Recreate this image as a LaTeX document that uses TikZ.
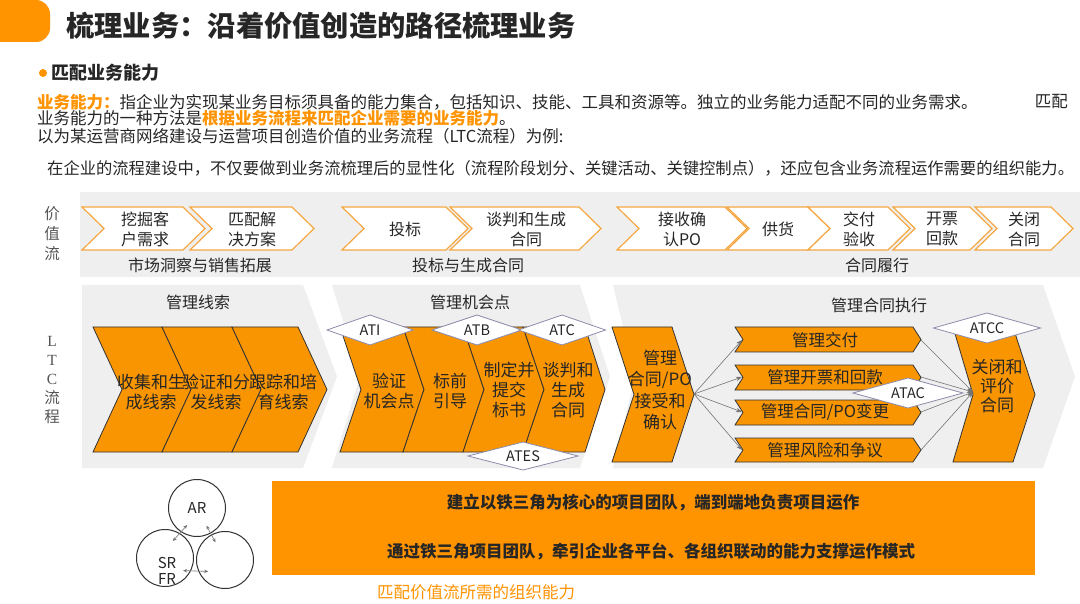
\documentclass[tikz,border=0pt]{standalone}
\usepackage{fontspec}
\setmainfont{Noto Sans CJK SC}
\newfontfamily\serifL{Liberation Serif}
\usetikzlibrary{arrows.meta,calc}
\definecolor{org}{HTML}{FF9300}
\definecolor{chevorg}{HTML}{F99500}
\definecolor{lineorg}{HTML}{F5A742}
\definecolor{bggray}{HTML}{EFEFEF}
\definecolor{txt}{HTML}{262626}
\definecolor{lbl}{HTML}{555555}
\definecolor{diaedge}{HTML}{8C8CAA}
\newcommand{\myfs}[2]{\fontsize{#1}{#2}\selectfont}
% style, left, right, top, bottom, notch depth, tip depth
\newcommand{\mychev}[7]{\path[#1] (#2,#4) -- (#3,#4) -- ({#3+#7},{(#4+#5)/2}) -- (#3,#5) -- (#2,#5) -- ({#2+#6},{(#4+#5)/2}) -- cycle;}
% name, x, y, w, h, text
\newcommand{\mydia}[6]{\path[dia] ({#2-#4/2},#3) -- (#2,{#3-#5/2}) -- ({#2+#4/2},#3) -- (#2,{#3+#5/2}) -- cycle;
  \node[diatxt] (#1) at (#2,#3) {#6};}
\begin{document}
\begin{tikzpicture}[x=1pt,y=-1pt,
  body/.style={font=\myfs{16.5}{20}, text=txt, inner sep=0},
  vtxt/.style={font=\myfs{16}{20}, text=txt, align=center, inner sep=0},
  otxt/.style={font=\myfs{17}{20}, text=txt, align=center, inner sep=0},
  vch/.style={fill=white, draw=lineorg, line width=1.2},
  gch/.style={fill=bggray},
  och/.style={fill=chevorg, draw=black!80, line width=0.8},
  dia/.style={fill=white, draw=diaedge, line width=0.8},
  diatxt/.style={font=\myfs{14.5}{16}, text=txt, inner sep=0},
  arr/.style={-{Stealth[length=6pt,width=4.5pt]}, draw=black!55, line width=0.6},
  darr/.style={{Stealth[length=4pt,width=3.5pt]}-{Stealth[length=4pt,width=3.5pt]}, draw=black!55, line width=0.6},
  ring/.style={circle, draw=black!80, line width=1, inner sep=0, minimum size=57}
]
\useasboundingbox (0,0) rectangle (1080,604);
\fill[white] (0,0) rectangle (1080,604);

% header
\fill[org, rounded corners=14] (-30,0) rectangle (50,42);
\node[anchor=west, font=\myfs{28.3}{32}\bfseries, text=txt, inner sep=0] (title) at (66,26) {梳理业务：沿着价值创造的路径梳理业务};
\fill[org] (43,73) circle (4);
\node[anchor=west, font=\myfs{18}{20}\bfseries, text=txt, inner sep=0] (head) at (51,73) {匹配业务能力};

\node[body, anchor=west] (l1) at (37,102) {\textcolor{org}{\bfseries 业务能力：}指企业为实现某业务目标须具备的能力集合，包括知识、技能、工具和资源等。独立的业务能力适配不同的业务需求。};
\node[body, anchor=east] (l1b) at (1068,102) {匹配};
\node[body, anchor=west] (l2) at (37,118) {业务能力的一种方法是\textcolor{org}{\bfseries 根据业务流程来匹配企业需要的业务能力}。};
\node[body, anchor=west] (l3) at (37,136) {以为某运营商网络建设与运营项目创造价值的业务流程（LTC流程）为例:};
\node[body, anchor=west, font=\myfs{16.3}{20}] (l4) at (47,168) {在企业的流程建设中，不仅要做到业务流梳理后的显性化（流程阶段划分、关键活动、关键控制点），还应包含业务流程运作需要的组织能力。};

% value stream
\fill[bggray] (80,192) rectangle (1080,277);
\node[font=\myfs{15.5}{20}, text=lbl, align=center, inner sep=0] (vl) at (52,234) {价\\值\\流};
\mychev{vch}{82}{183}{207}{250}{22}{22}
\mychev{vch}{190}{292}{207}{250}{22}{22}
\mychev{vch}{342}{446}{207}{250}{22}{22}
\mychev{vch}{450}{579}{207}{250}{22}{22}
\mychev{vch}{617}{725}{207}{250}{22}{22}
\mychev{vch}{727}{808}{207}{250}{22}{22}
\mychev{vch}{808}{888}{207}{250}{22}{22}
\mychev{vch}{893}{970}{207}{250}{22}{22}
\mychev{vch}{975}{1051}{207}{250}{22}{22}
\node[vtxt] (v1) at (145,229) {挖掘客\\户需求};
\node[vtxt] (v2) at (252,229) {匹配解\\决方案};
\node[vtxt] (v3) at (405,229) {投标};
\node[vtxt] (v4) at (526,229) {谈判和生成\\合同};
\node[vtxt] (v5) at (682,229) {接收确\\认PO};
\node[vtxt] (v6) at (778,229) {供货};
\node[vtxt] (v7) at (859,229) {交付\\验收};
\node[vtxt] (v8) at (942,229) {开票\\回款};
\node[vtxt] (v9) at (1024,229) {关闭\\合同};
\node[vtxt] (p1) at (200,265) {市场洞察与销售拓展};
\node[vtxt] (p2) at (468,265) {投标与生成合同};
\node[vtxt] (p3) at (877,265) {合同履行};

% LTC
\node[font=\myfs{15.5}{19}, text=lbl, align=center, inner sep=0] (ltc) at (52,380) {{\serifL L}\\{\serifL T}\\{\serifL C}\\流\\程};
\mychev{gch}{82}{303}{285}{468}{0}{34}
\mychev{gch}{332}{580}{285}{468}{28}{30}
\mychev{gch}{613}{1043}{285}{468}{22}{32}
\node[vtxt] (g1) at (198,302) {管理线索};
\node[vtxt] (g2) at (470,302) {管理机会点};
\node[vtxt] (g3) at (879,305) {管理合同执行};

% group 1
\mychev{och}{93}{162}{327}{452}{29}{29}
\mychev{och}{162}{232}{327}{452}{29}{29}
\mychev{och}{232}{298}{327}{452}{29}{29}
\node[otxt] (a1) at (151,392) {收集和生\\成线索};
\node[otxt] (a2) at (216,392) {验证和分\\发线索};
\node[otxt] (a3) at (283,392) {跟踪和培\\育线索};

% group 2
\mychev{och}{340}{403}{327}{452}{21}{21}
\mychev{och}{403}{463}{327}{452}{21}{21}
\mychev{och}{463}{523}{327}{452}{21}{21}
\mychev{och}{523}{585}{327}{452}{21}{20}
\node[otxt] (b1) at (389,391) {验证\\机会点};
\node[otxt] (b2) at (450,391) {标前\\引导};
\node[otxt] (b3) at (509,390) {制定并\\提交\\标书};
\node[otxt] (b4) at (568,390) {谈判和\\生成\\合同};
\mydia{ati}{370}{330}{86}{30}{ATI}
\mydia{atb}{477}{330}{90}{30}{ATB}
\mydia{atc}{562}{330}{87}{30}{ATC}
\mydia{ates}{523}{456}{110}{28}{ATES}

% group 3
\mychev{och}{612}{672}{327}{462}{22}{22}
\node[otxt, font=\myfs{17}{21.5}] (po) at (660,390) {管理\\合同/PO\\接受和\\确认};
\coordinate (potip) at (694,394);
\mychev{och}{735}{913}{327}{352}{8}{8}
\mychev{och}{735}{913}{365}{390}{8}{8}
\mychev{och}{735}{913}{400}{425}{8}{8}
\mychev{och}{735}{913}{438}{462}{8}{8}
\node[otxt, font=\myfs{16.5}{20}] (m1) at (825,340) {管理交付};
\node[otxt, font=\myfs{16.5}{20}] (m2) at (825,377) {管理开票和回款};
\node[otxt, font=\myfs{16.5}{20}] (m3) at (825,412) {管理合同/PO变更};
\node[otxt, font=\myfs{16.5}{20}] (m4) at (825,450) {管理风险和争议};
\coordinate (m1in) at (742,340);
\coordinate (m2in) at (742,377);
\coordinate (m3in) at (742,412);
\coordinate (m4in) at (742,450);
\coordinate (m1out) at (921,340);
\coordinate (m2out) at (921,377);
\coordinate (m3out) at (921,412);
\coordinate (m4out) at (921,450);
\mychev{och}{953}{1013}{327}{462}{20}{22}
\node[otxt, font=\myfs{17}{19}] (cl) at (997,386) {关闭和\\评价\\合同};
\coordinate (clin) at (973,392);
\draw[arr] (potip) -- (m1in);
\draw[arr] (potip) -- (m2in);
\draw[arr] (potip) -- (m3in);
\draw[arr] (potip) -- (m4in);
\draw[arr] (m1out) -- (clin);
\draw[arr] (m2out) -- (clin);
\draw[arr] (m3out) -- (clin);
\draw[arr] (m4out) -- (clin);
\mydia{atcc}{987}{328}{107}{30}{ATCC}
\mydia{atac}{908}{393}{110}{30}{ATAC}

% bottom
\node[ring] (ar) at (197,508) {};
\node[font=\myfs{15}{17}, text=txt, inner sep=0] (artxt) at (197,508) {AR};
\node[ring] (sr) at (165,558) {};
\node[ring] (th) at (225,560) {};
\node[font=\myfs{15}{16}, text=txt, align=center, inner sep=0] (srtxt) at (167,571) {SR\\FR};
\draw[darr] ($(ar)!0.34!(sr)+(1,0)$) -- ($(ar)!0.66!(sr)-(3,0)$);
\draw[darr] ($(ar)!0.34!(th)+(0,0)$) -- ($(ar)!0.66!(th)+(0,0)$);
\draw[darr] ($(sr)!0.3!(th)+(0,12)$) -- ($(sr)!0.72!(th)+(0,12)$);

\node[fill=org, minimum width=763, minimum height=94, inner sep=0] (banner) at (653.5,528) {};
\node[font=\myfs{16.5}{20}\bfseries, text=txt, inner sep=0] (bt1) at (653,503) {建立以铁三角为核心的项目团队，端到端地负责项目运作};
\node[font=\myfs{16.5}{20}\bfseries, text=txt, inner sep=0] (bt2) at (651,552) {通过铁三角项目团队，牵引企业各平台、各组织联动的能力支撑运作模式};
\node[font=\myfs{16.5}{20}, text=org, inner sep=0] (cap) at (476,592) {匹配价值流所需的组织能力};
\end{tikzpicture}
\end{document}
